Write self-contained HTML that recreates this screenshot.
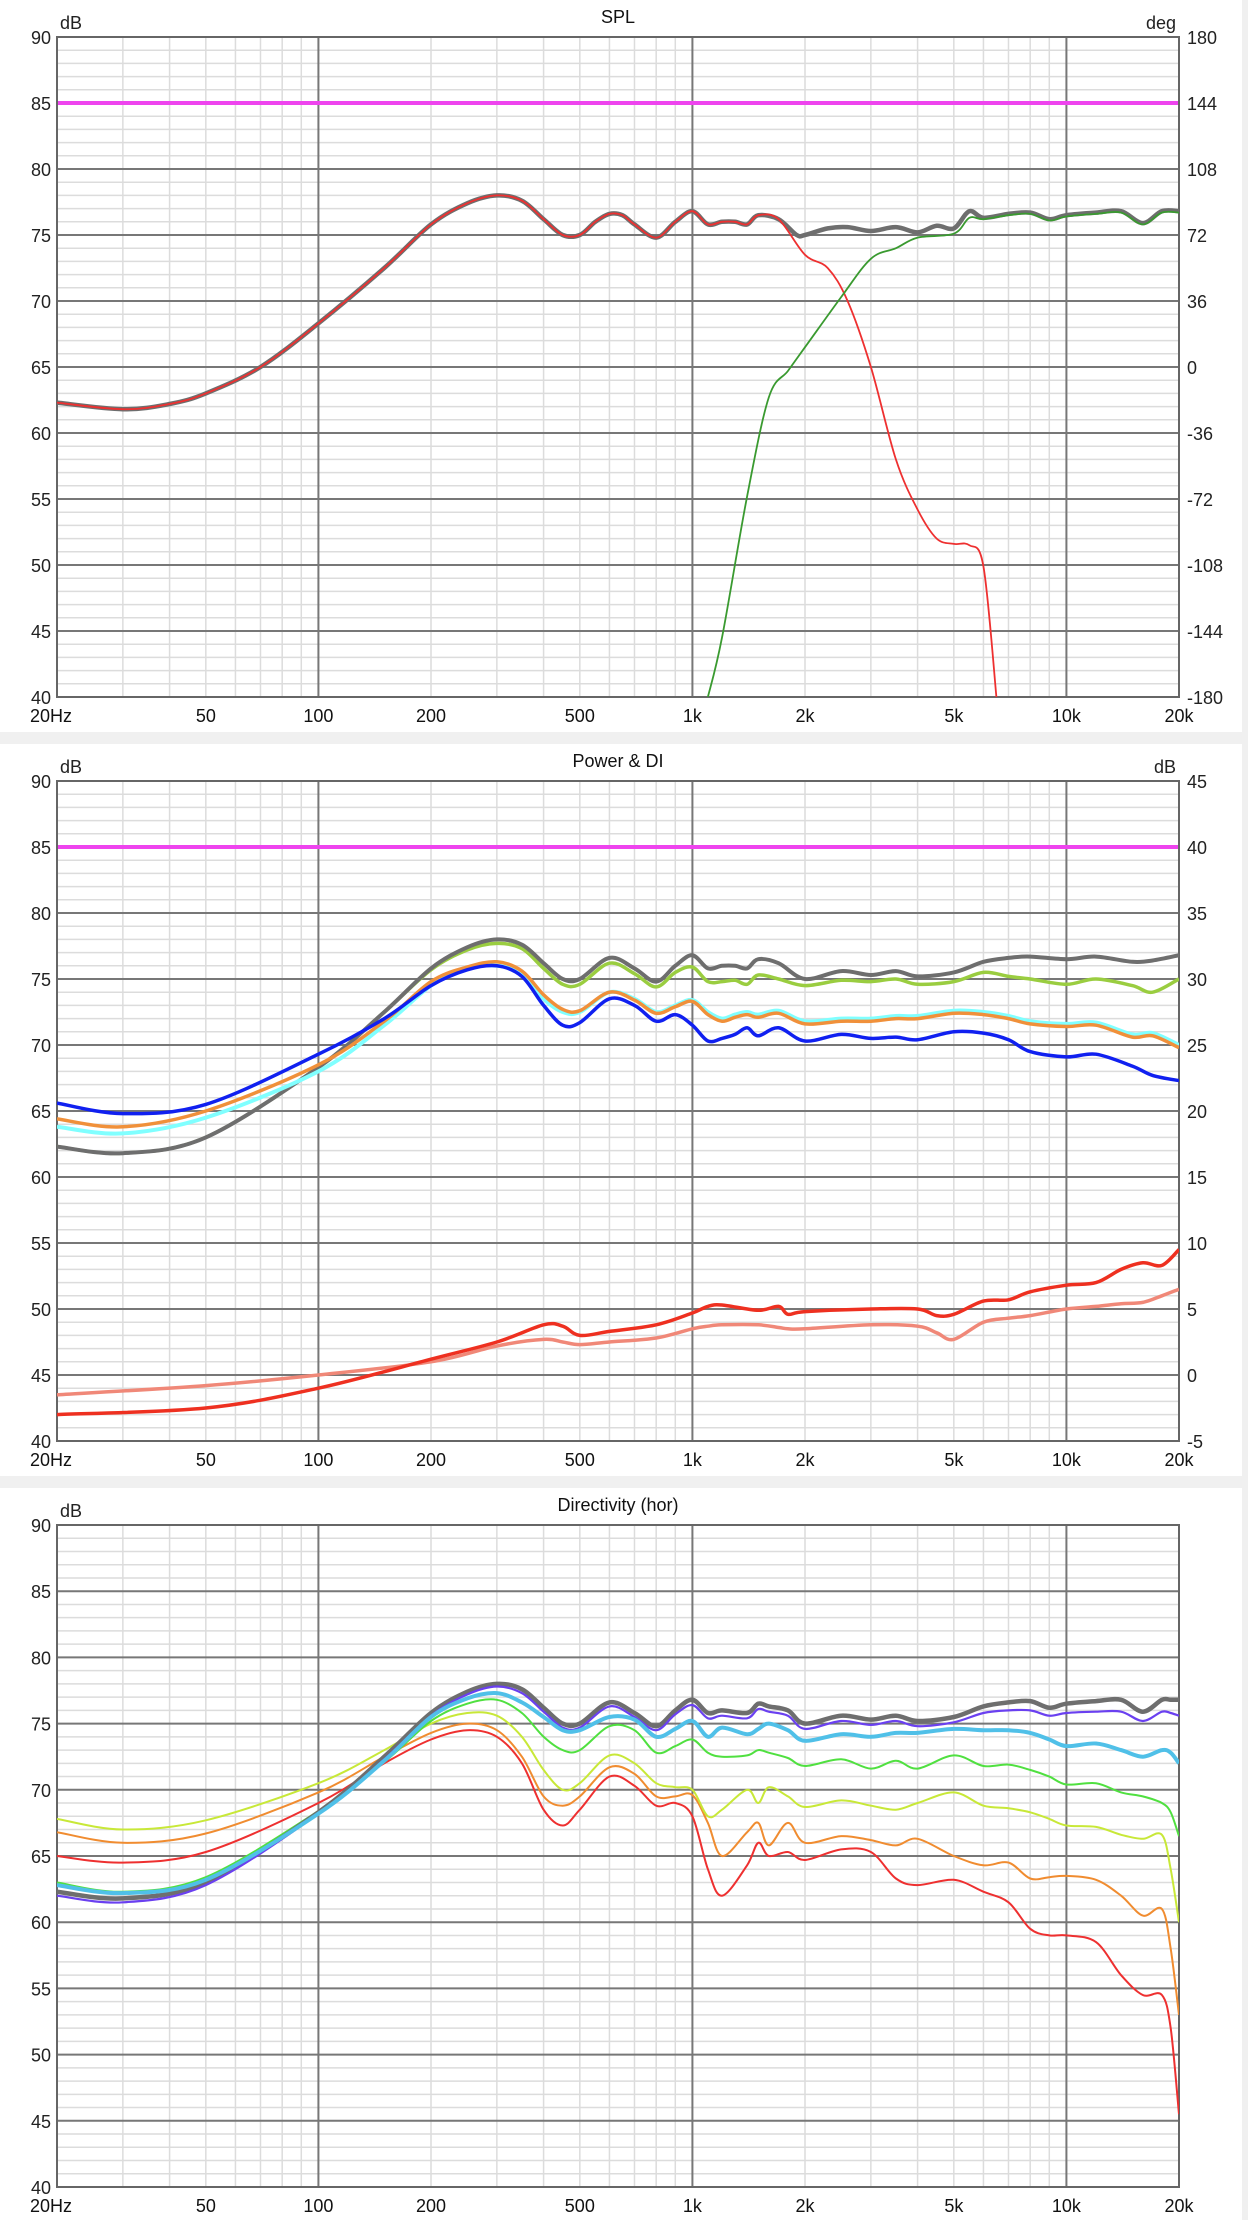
<!DOCTYPE html>
<html><head><meta charset="utf-8"><style>
html,body{margin:0;padding:0;background:#fff}
svg{display:block;font-family:"Liberation Sans",sans-serif}
</style></head><body>
<svg id="c" width="1248" height="2220" viewBox="0 0 1248 2220" xmlns="http://www.w3.org/2000/svg">
<rect x="0" y="0" width="1248" height="2220" fill="#fff"/>
<rect x="0" y="732" width="1248" height="12" fill="#f0f0f0"/>
<rect x="0" y="1476" width="1248" height="12" fill="#f0f0f0"/>
<rect x="1242" y="0" width="6" height="2220" fill="#f0f0f0"/>
</svg>
<script>
// ---------- data ----------
const F1 = [20,30,40,50,70,100,150,200,250,300,350,400,450,500,550,600,650,700,800,900,1000,1100,1200,1300,1400,1500,1700,1900,2000,2300,2600,3000,3500,4000,4500,5000,5500,6000,7000,8000,9000,10000,12000,14000,16000,18000,20000];
const splTotal = [62.3,61.8,62.2,63,65,68.3,72.5,75.8,77.4,78,77.6,76.2,75,75,76,76.6,76.5,75.8,74.8,76,76.8,75.8,76,76,75.8,76.5,76.2,75,75,75.5,75.6,75.3,75.6,75.2,75.7,75.5,76.8,76.3,76.6,76.7,76.2,76.5,76.7,76.8,75.9,76.8,76.8];
const F1w = [20,30,40,50,70,100,150,200,250,300,350,400,450,500,550,600,650,700,800,900,1000,1100,1200,1300,1400,1500,1700,2000,2300,2600,3000,3500,4000,4500,5000,5500,6000,6500];
const splWoofer = [62.3,61.8,62.2,63,65,68.3,72.5,75.8,77.4,78,77.6,76.2,75,75,76,76.6,76.5,75.8,74.8,76,76.8,75.8,76,76,75.8,76.5,76.2,73.5,72.5,70,65,58,54.2,52,51.6,51.5,49.9,40];
const F1t = [1100,1200,1400,1600,1800,2000,2500,3000,3500,4000,5000,5500,6000,7000,8000,9000,10000,12000,14000,16000,18000,20000];
const splTweeter = [40,44.5,55.2,62.7,64.7,66.5,70.3,73.2,74,74.8,75.1,76.3,76.2,76.5,76.6,76.1,76.4,76.6,76.7,75.8,76.7,76.7];

const F2 = [20,30,50,100,150,200,250,300,350,400,450,500,600,700,800,900,1000,1100,1200,1300,1400,1500,1700,2000,2500,3000,3500,4000,5000,6000,7000,8000,10000,12000,15000,17000,20000];
const pwOn = [62.3,61.8,63,68.3,72.5,75.8,77.4,78,77.6,76.2,75,75,76.6,75.8,74.8,76,76.8,75.8,76,76,75.8,76.5,76.2,75,75.6,75.3,75.6,75.2,75.5,76.3,76.6,76.7,76.5,76.7,76.3,76.4,76.8];
const pwLW = [62.3,61.8,63,68.3,72.5,75.7,77.2,77.7,77.3,75.8,74.6,74.6,76.2,75.4,74.4,75.5,75.9,74.8,74.8,74.9,74.6,75.3,75,74.5,74.9,74.8,75,74.6,74.8,75.5,75.2,75,74.6,75,74.5,74,75];
const pwER = [63.8,63.3,64.5,68,71.5,74.5,75.8,76,75.4,73.5,72.5,72.5,74,73.5,72.5,73,73.4,72.5,72,72.3,72.5,72.3,72.6,71.8,72,72,72.2,72.2,72.6,72.5,72.2,71.8,71.6,71.7,70.8,70.9,70];
const pwSP = [64.4,63.8,65,68.5,71.8,74.8,75.9,76.3,75.6,73.8,72.7,72.6,74,73.4,72.4,72.9,73.3,72.3,71.8,72.1,72.3,72.1,72.4,71.6,71.8,71.8,72,72,72.4,72.3,72,71.6,71.4,71.5,70.6,70.7,69.8];
const pwBlue = [65.6,64.8,65.5,69.3,72,74.5,75.7,76,75.2,73,71.5,71.7,73.5,73,71.8,72.3,71.5,70.3,70.5,70.8,71.3,70.7,71.3,70.3,70.8,70.5,70.6,70.4,71,70.9,70.4,69.5,69.1,69.3,68.4,67.7,67.3];
const F2d = [20,50,100,200,300,400,450,500,600,800,1000,1100,1200,1500,1700,1800,2000,3000,4000,4500,5000,6000,7000,8000,10000,12000,14000,16000,18000,20000];
const diSP = [42,42.5,44,46.2,47.5,48.8,48.7,48,48.3,48.8,49.7,50.2,50.3,49.9,50.2,49.6,49.8,50,50,49.5,49.6,50.6,50.7,51.3,51.8,52,53,53.5,53.3,54.5];
const diER = [43.5,44.2,45,46,47.2,47.7,47.5,47.3,47.5,47.8,48.5,48.7,48.8,48.8,48.6,48.5,48.5,48.8,48.7,48.2,47.7,49,49.3,49.5,50,50.2,50.4,50.5,51,51.5];

const F3 = [20,30,50,100,150,200,250,300,350,400,450,500,600,700,800,900,1000,1100,1200,1400,1500,1600,1800,2000,2500,3000,3500,4000,5000,6000,7000,8000,9000,10000,12000,14000,16000,18000,19000,20000];
const d0 = [62.3,61.8,63,68.3,72.5,75.8,77.4,78,77.6,76.2,75,75,76.6,75.8,74.8,76,76.8,75.8,76,75.8,76.5,76.3,76,75,75.6,75.3,75.6,75.2,75.5,76.3,76.6,76.7,76.2,76.5,76.7,76.8,75.9,76.8,76.8,76.8];
const d10 = [62,61.5,62.8,68.2,72.3,75.6,77.2,77.8,77.3,75.9,74.7,74.7,76.3,75.5,74.5,75.7,76.4,75.4,75.6,75.4,76.1,75.9,75.6,74.6,75.2,74.9,75.2,74.8,75.1,75.8,76,76,75.6,75.8,75.9,75.9,75.2,75.9,75.8,75.6];
const d20 = [62.8,62.2,63.2,68.2,72.2,75.5,76.9,77.3,76.6,75.5,74.5,74.5,75.5,75.3,74,74.6,75.2,74,74.7,74.2,74.6,75,74.5,73.7,74.2,74,74.3,74.3,74.6,74.5,74.5,74.3,73.8,73.3,73.5,73,72.5,73,72.8,72];
const d30 = [63,62.3,63.4,68.4,72.1,75.2,76.5,76.8,75.8,74,73,73,74.8,74.5,72.8,73.3,73.8,72.8,72.5,72.6,73,72.8,72.4,71.8,72.3,71.6,72.2,71.6,72.6,71.8,71.9,71.5,71,70.4,70.5,69.8,69.5,69,68.3,66.5];
const d40 = [67.8,67,67.7,70.5,73,75,75.8,75.6,74,71.5,70,70.5,72.6,72,70.5,70.2,70,68,68.5,70,69,70.2,69.5,68.7,69.2,68.8,68.5,69,69.8,68.8,68.6,68.3,67.8,67.3,67.2,66.6,66.3,66.6,64,60];
const d50 = [66.8,66,66.7,69.8,72.5,74.3,75,74.5,72.5,69.5,68.8,69.5,71.7,71.2,69.5,69.5,69.6,67.5,65,66.8,67.5,65.8,67.5,66,66.5,66.2,65.8,66.3,65,64.3,64.5,63.3,63.4,63.5,63.2,62,60.5,61,58,53];
const d60 = [65,64.5,65.3,69,72,73.8,74.5,74,72,68.5,67.3,68.5,71,70.3,68.8,69,68,64,62,64.3,66,65,65.3,64.7,65.5,65.3,63.3,62.8,63.2,62.3,61.5,59.5,59,59,58.5,56,54.5,54.5,52,45.5];

const xTicks = [20,50,100,200,500,1000,2000,5000,10000,20000];
const xTickLabels = ["20Hz","50","100","200","500","1k","2k","5k","10k","20k"];
const yTickLabels = ["90","85","80","75","70","65","60","55","50","45","40"];
const phaseLabels = ["180","144","108","72","36","0","-36","-72","-108","-144","-180"];
const diLabels = ["45","40","35","30","25","20","15","10","5","0","-5"];

// ---------- drawing ----------
const svg = document.getElementById('c');
const NS = 'http://www.w3.org/2000/svg';
const X0 = 57, X1 = 1179;
function xs(f){ return X0 + (Math.log10(f) - Math.log10(20)) / 3 * (X1 - X0); }
function mk(tag, attrs){ const e = document.createElementNS(NS, tag); for (const k in attrs) e.setAttribute(k, attrs[k]); svg.appendChild(e); return e; }

function panel(top, bottom, title, rightLabels, rightUnit, idx){
  const ys = v => top + (90 - v) / 50 * (bottom - top);
  for (let v = 41; v < 90; v++) {
    if (v % 5 === 0) continue;
    const l = mk('line', {x1:X0, x2:X1, y1:ys(v), y2:ys(v), stroke:'#dcdcdc', 'stroke-width':1.5});
    
    
  }
  const minors = [30,40,50,60,70,80,90,200,300,400,500,600,700,800,900,2000,3000,4000,5000,6000,7000,8000,9000];
  minors.forEach(f => {
    const l = mk('line', {x1:xs(f), x2:xs(f), y1:top, y2:bottom, stroke:'#dcdcdc', 'stroke-width':1.5});
    
    
  });
  for (let v = 45; v < 90; v += 5) {
    const l = mk('line', {x1:X0, x2:X1, y1:ys(v), y2:ys(v), stroke:'#777', 'stroke-width':2});
    
    
  }
  [100,1000,10000].forEach(f => {
    const l = mk('line', {x1:xs(f), x2:xs(f), y1:top, y2:bottom, stroke:'#777', 'stroke-width':2});
    
    
  });
  const fr = mk('rect', {x:X0, y:top, width:X1-X0, height:bottom-top, fill:'none', stroke:'#666', 'stroke-width':2});
  
  
  const t = mk('text', {x:618, y:top-14, 'font-size':18, 'text-anchor':'middle', fill:'#111'});
  t.textContent = title;
  
  
  const u = mk('text', {x:60, y:top-8, 'font-size':18, fill:'#222'});
  u.textContent = 'dB';
  
  
  yTickLabels.forEach((lab, i) => {
    const tt = mk('text', {x:51, y:top + i*(bottom-top)/10 + 7, 'font-size':18, 'text-anchor':'end', fill:'#222'});
    tt.textContent = lab;
    
    
  });
  if (rightLabels) {
    rightLabels.forEach((lab, i) => {
      const tt = mk('text', {x:1187, y:top + i*(bottom-top)/10 + 7, 'font-size':18, fill:'#222'});
      tt.textContent = lab;
      
      
    });
    const ru = mk('text', {x:1176, y:top-8, 'font-size':18, 'text-anchor':'end', fill:'#222'});
    ru.textContent = rightUnit;
    
    
  }
  xTicks.forEach((f, i) => {
    const first = i === 0;
    const tt = mk('text', {x: first ? 30 : xs(f), y:bottom+25, 'font-size':18, 'text-anchor': first ? 'start' : 'middle', fill:'#111'});
    tt.textContent = xTickLabels[i];
    
    
  });
  return ys;
}

function curve(fr, vals, ys, color, w, name, top){
  const pts = fr.map((f, i) => [xs(f), ys(vals[i])]);
  let d = 'M' + pts[0][0].toFixed(1) + ' ' + pts[0][1].toFixed(1);
  for (let i = 0; i < pts.length - 1; i++) {
    const p0 = pts[Math.max(0, i-1)], p1 = pts[i], p2 = pts[i+1], p3 = pts[Math.min(pts.length-1, i+2)];
    const c1x = p1[0] + (p2[0]-p0[0])/6, c1y = p1[1] + (p2[1]-p0[1])/6;
    const c2x = p2[0] - (p3[0]-p1[0])/6, c2y = p2[1] - (p3[1]-p1[1])/6;
    d += ' C' + c1x.toFixed(1)+' '+c1y.toFixed(1)+' '+c2x.toFixed(1)+' '+c2y.toFixed(1)+' '+p2[0].toFixed(1)+' '+p2[1].toFixed(1);
  }
  const p = mk('path', {d:d, fill:'none', stroke:color, 'stroke-width':w, 'stroke-linejoin':'round', 'clip-path':'url(#clip'+top+')'});
  
  
}
function clip(top, bottom){
  const cp = mk('clipPath', {id:'clip'+top});
  const r = document.createElementNS(NS, 'rect');
  r.setAttribute('x', X0); r.setAttribute('y', top); r.setAttribute('width', X1-X0); r.setAttribute('height', bottom-top);
  cp.appendChild(r);
}
function refLine(ys, v, name){
  const l = mk('line', {x1:X0+1, x2:X1-1, y1:ys(v), y2:ys(v), stroke:'#ee44ee', 'stroke-width':4});
  
  
}

// Panel 1: SPL
const P1 = [37, 697];
clip(P1[0], P1[1]);
const y1 = panel(P1[0], P1[1], 'SPL', phaseLabels, 'deg', 1);
refLine(y1, 85, 'reference-85db-line-spl');
curve(F1, splTotal, y1, '#6e6e6e', 4.5, 'spl-total-curve', P1[0]);
curve(F1w, splWoofer, y1, '#ee3030', 1.8, 'spl-woofer-curve', P1[0]);
curve(F1t, splTweeter, y1, '#3a9a30', 1.8, 'spl-tweeter-curve', P1[0]);

// Panel 2: Power & DI
const P2 = [781, 1441];
clip(P2[0], P2[1]);
const y2 = panel(P2[0], P2[1], 'Power & DI', diLabels, 'dB', 2);
refLine(y2, 85, 'reference-85db-line-power');
curve(F2, pwLW, y2, '#9acd40', 3.5, 'listening-window-curve', P2[0]);
curve(F2, pwOn, y2, '#6e6e6e', 4, 'on-axis-curve', P2[0]);
curve(F2, pwER, y2, '#80ffff', 4, 'early-reflections-curve', P2[0]);
curve(F2, pwSP, y2, '#f0903a', 3.5, 'sound-power-curve', P2[0]);
curve(F2, pwBlue, y2, '#1020f0', 3.5, 'power-response-curve', P2[0]);
curve(F2d, diER, y2, '#f08878', 3.5, 'er-di-curve', P2[0]);
curve(F2d, diSP, y2, '#ee3020', 3.5, 'sp-di-curve', P2[0]);

// Panel 3: Directivity
const P3 = [1525, 2187];
clip(P3[0], P3[1]);
const y3 = panel(P3[0], P3[1], 'Directivity (hor)', null, '', 3);
curve(F3, d60, y3, '#ee3030', 2, 'directivity-60deg-curve', P3[0]);
curve(F3, d50, y3, '#f08c30', 2, 'directivity-50deg-curve', P3[0]);
curve(F3, d40, y3, '#c8e838', 2, 'directivity-40deg-curve', P3[0]);
curve(F3, d30, y3, '#50e040', 2, 'directivity-30deg-curve', P3[0]);
curve(F3, d0, y3, '#6e6e6e', 4.5, 'directivity-0deg-curve', P3[0]);
curve(F3, d10, y3, '#6a40f0', 2.2, 'directivity-10deg-curve', P3[0]);
curve(F3, d20, y3, '#50c0e8', 4, 'directivity-20deg-curve', P3[0]);
</script>
</body></html>
